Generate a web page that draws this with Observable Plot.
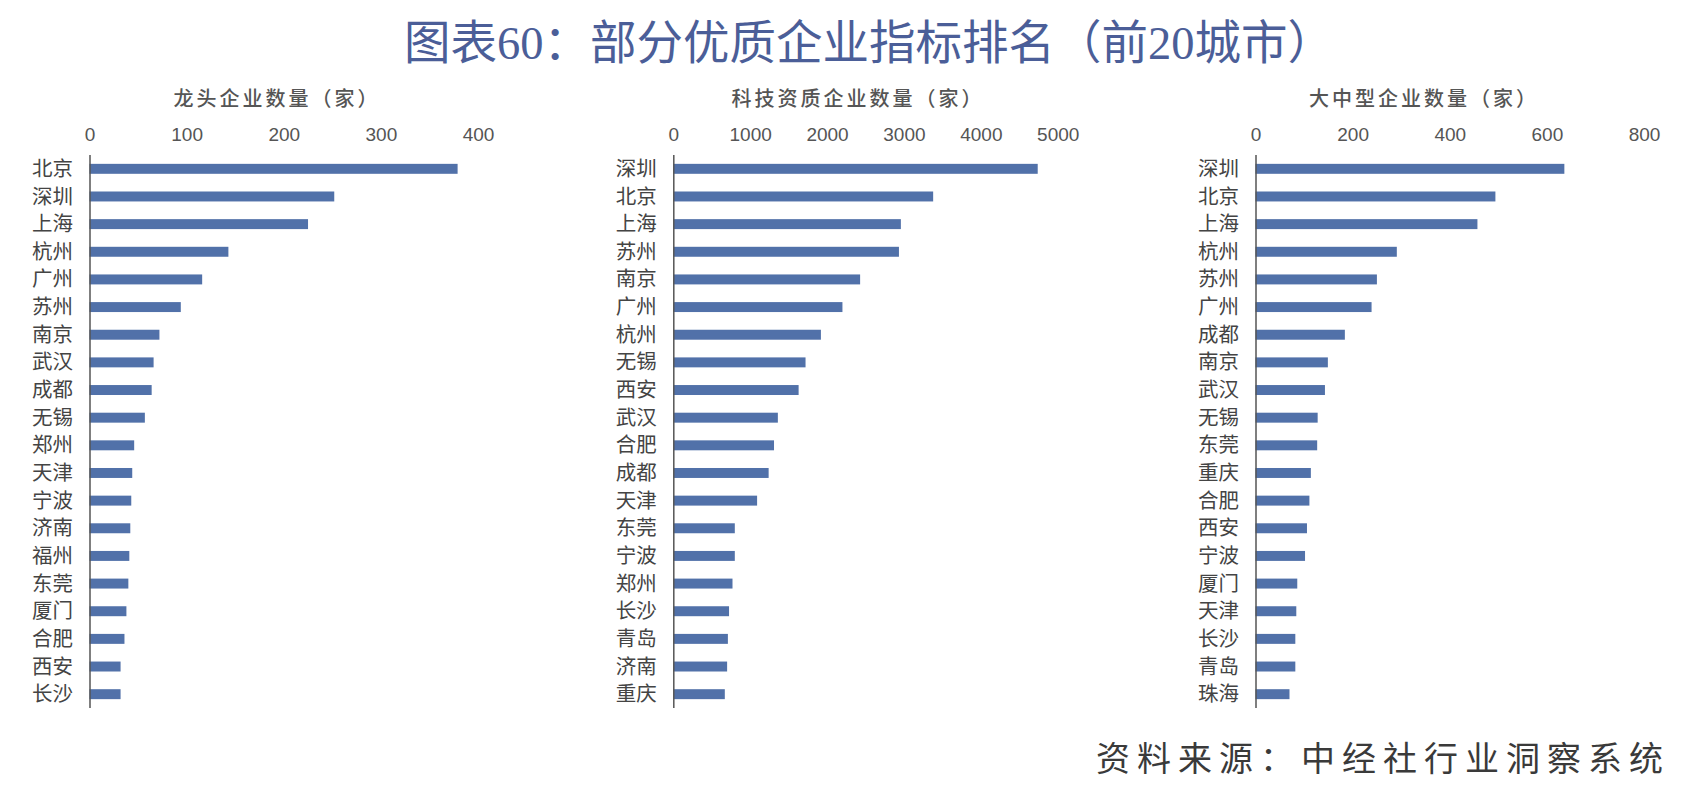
<!DOCTYPE html>
<html>
<head>
<meta charset="utf-8">
<script src="https://cdn.jsdelivr.net/npm/d3@7"></script>
<script src="https://cdn.jsdelivr.net/npm/@observablehq/plot@0.6"></script>
<style>
  html, body { margin: 0; padding: 0; background: #fff; }
  #root { position: relative; width: 1704px; height: 809px; overflow: hidden; background: #fff; }
  .title { position: absolute; left: 404px; top: 15px; white-space: nowrap;
    font-family: 'Liberation Serif', 'Noto Sans CJK SC', serif; font-size: 46.5px; line-height: 58px;
    color: #4b5e98; }
  .ptitle { position: absolute; top: 84px; width: 400px; margin-left: -200px; text-align: center;
    font-family: 'Noto Sans CJK SC', sans-serif; font-size: 20px; line-height: 28px; color: #555;
    font-weight: 500; letter-spacing: 3px; }
  .panel { position: absolute; top: 110px; }
  .source { position: absolute; right: 34px; top: 734px; white-space: nowrap; font-family: 'Noto Sans CJK SC', serif;
    font-size: 34px; line-height: 46px; letter-spacing: 7px; color: #3a3a3a; }
</style>
</head>
<body>
<div id="root">
  <div class="title">图表60：部分优质企业指标排名（前20城市）</div>
  <div class="ptitle" style="left:277px">龙头企业数量（家）</div>
  <div class="ptitle" style="left:858px">科技资质企业数量（家）</div>
  <div class="ptitle" style="left:1424px">大中型企业数量（家）</div>
  <div class="panel" id="p1" style="left:0px"></div>
  <div class="panel" id="p2" style="left:580px"></div>
  <div class="panel" id="p3" style="left:1160px"></div>
  <div class="source">资料来源：中经社行业洞察系统</div>
</div>
<script>
// Panel 1: 龙头企业数量（家）
const cities1 = ["北京","深圳","上海","杭州","广州","苏州","南京","武汉","成都","无锡","郑州","天津","宁波","济南","福州","东莞","厦门","合肥","西安","长沙"];
const values1 = [379, 252, 225, 143, 116, 94, 72, 66, 64, 57, 46, 44, 43, 42, 41, 40, 38, 36, 32, 32];
const ticks1 = [0, 100, 200, 300, 400];

// Panel 2: 科技资质企业数量（家）
const cities2 = ["深圳","北京","上海","苏州","南京","广州","杭州","无锡","西安","武汉","合肥","成都","天津","东莞","宁波","郑州","长沙","青岛","济南","重庆"];
const values2 = [4740, 3380, 2960, 2935, 2430, 2200, 1920, 1720, 1630, 1360, 1310, 1240, 1090, 800, 800, 770, 725, 710, 700, 670];
const ticks2 = [0, 1000, 2000, 3000, 4000, 5000];

// Panel 3: 大中型企业数量（家）
const cities3 = ["深圳","北京","上海","杭州","苏州","广州","成都","南京","武汉","无锡","东莞","重庆","合肥","西安","宁波","厦门","天津","长沙","青岛","珠海"];
const values3 = [636, 494, 457, 291, 250, 239, 184, 149, 143, 128, 127, 114, 111, 106, 102, 86, 84, 82, 82, 70];
const ticks3 = [0, 200, 400, 600, 800];

function panel(cities, values, ticks, width, marginLeft, marginRight) {
  const data = cities.map((c, i) => ({city: c, value: values[i]}));
  return Plot.plot({
    width, height: 613,
    marginTop: 45, marginBottom: 15, marginLeft, marginRight,
    style: {fontSize: "19px", fontFamily: "'Liberation Sans','Noto Sans CJK SC',sans-serif", color: "#4a4a4a", background: "transparent", overflow: "visible"},
    x: {domain: [0, ticks[ticks.length - 1]]},
    y: {domain: cities, paddingInner: 0.64, paddingOuter: 0.32, round: false},
    marks: [
      Plot.barX(data, {x: "value", y: "city", fill: "#5171a9"}),
      Plot.ruleX([0], {stroke: "#555", strokeWidth: 1.5}),
      Plot.axisX({anchor: "top", ticks, tickFormat: d => String(d), tickSize: 0, tickPadding: 15, label: null, fontSize: 19, fill: "#555"}),
      Plot.axisY({anchor: "left", tickSize: 0, tickPadding: 17, label: null, fontSize: 20.5, fill: "#444", fontFamily: "'Noto Sans CJK SC',sans-serif"})
    ]
  });
}

document.getElementById("p1").appendChild(panel(cities1, values1, ticks1, 520, 89.5, 42));
document.getElementById("p2").appendChild(panel(cities2, values2, ticks2, 520, 93.3, 42.3));
document.getElementById("p3").appendChild(panel(cities3, values3, ticks3, 544, 95.5, 60));
</script>
</body>
</html>
